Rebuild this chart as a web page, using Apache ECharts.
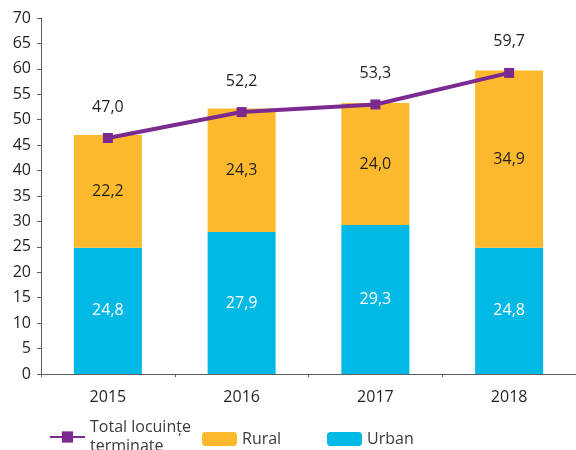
<!DOCTYPE html>
<html>
<head>
<meta charset="utf-8">
<script src="https://cdn.jsdelivr.net/npm/echarts@6/dist/echarts.min.js"></script>
<style>
  html, body { margin: 0; padding: 0; background: #fff; }
  #chart { width: 576px; height: 450px; }
</style>
</head>
<body>
<div id="chart"></div>
<script>
// date
const years = ['2015', '2016', '2017', '2018'];
const urban = [24.8, 27.9, 29.3, 24.8];
const rural = [22.2, 24.3, 24.0, 34.9];
const totalLine = [46.4, 51.5, 53.0, 59.2]; // pozitia markerilor pe grafic
const totalLabels = [47.0, 52.2, 53.3, 59.7]; // etichetele afisate
const yTicks = { min: 0, max: 70, step: 5 };

const FONT = 'Open Sans';
const fmt = v => v.toFixed(1).replace('.', ',');

const chart = echarts.init(document.getElementById('chart'));

const option = {
  animation: false,
  textStyle: { fontFamily: FONT },
  grid: { left: 41, right: -1, top: 18, bottom: 76 },
  legend: [
    {
      left: 44, top: 413,
      itemWidth: 35, itemHeight: 14,
      data: ['Total locuințe terminate'],
      formatter: () => 'Total locuințe\nterminate',
      textStyle: { fontSize: 16, color: '#3a3a3a', lineHeight: 19, fontFamily: FONT }
    },
    {
      left: 197, top: 426,
      itemWidth: 35, itemHeight: 14,
      data: ['Rural'],
      textStyle: { fontSize: 16, color: '#3a3a3a', fontFamily: FONT }
    },
    {
      left: 322, top: 426,
      itemWidth: 35, itemHeight: 14,
      data: ['Urban'],
      textStyle: { fontSize: 16, color: '#3a3a3a', fontFamily: FONT }
    }
  ],
  xAxis: {
    type: 'category',
    data: years,
    axisLine: { lineStyle: { color: '#5f5f5f', width: 1 } },
    axisTick: { show: true, length: 3, lineStyle: { color: '#5f5f5f' } },
    axisLabel: { fontSize: 16, color: '#231f20', margin: 15, fontFamily: FONT }
  },
  yAxis: {
    type: 'value',
    min: yTicks.min, max: yTicks.max, interval: yTicks.step,
    axisLine: { show: true, lineStyle: { color: '#5f5f5f', width: 1 } },
    axisTick: { show: true, length: 4, lineStyle: { color: '#5f5f5f' } },
    splitLine: { show: false },
    axisLabel: { fontSize: 16, color: '#231f20', margin: 10, fontFamily: FONT }
  },
  series: [
    {
      name: 'Urban',
      type: 'bar',
      stack: 'total',
      barWidth: 68,
      data: urban,
      itemStyle: { color: '#00b9e4' },
      label: {
        show: true, position: 'inside',
        color: '#ffffff', fontSize: 16, fontFamily: FONT,
        formatter: p => fmt(p.value)
      }
    },
    {
      name: 'Rural',
      type: 'bar',
      stack: 'total',
      barWidth: 68,
      data: rural,
      itemStyle: { color: '#fcb92e' },
      label: {
        show: true, position: 'inside',
        color: '#231f20', fontSize: 16, fontFamily: FONT,
        formatter: p => fmt(p.value)
      }
    },
    {
      name: 'Total locuințe terminate',
      type: 'line',
      data: totalLine,
      symbol: 'rect',
      symbolSize: 10,
      lineStyle: { color: '#7b2a90', width: 4 },
      itemStyle: { color: '#7b2a90' },
      z: 5,
      label: {
        show: true, position: 'top', distance: 18,
        color: '#231f20', fontSize: 16, fontFamily: FONT,
        formatter: p => fmt(totalLabels[p.dataIndex])
      }
    }
  ]
};

chart.setOption(option);
</script>
</body>
</html>
